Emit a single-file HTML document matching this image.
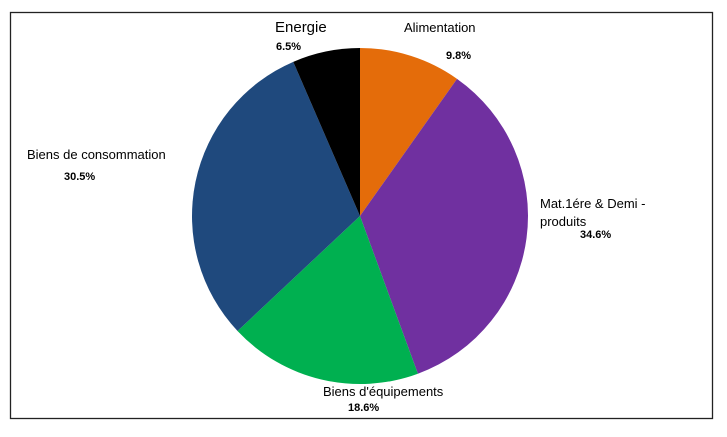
<!DOCTYPE html>
<html><head><meta charset="utf-8"><style>
body{margin:0;background:#fff;width:727px;height:432px;overflow:hidden;font-family:"Liberation Sans",sans-serif}
svg text{font-family:"Liberation Sans",sans-serif}
</style></head><body>
<svg width="727" height="432">
<rect x="10.5" y="12.5" width="702" height="406" fill="#fff" stroke="#222" stroke-width="1.3"/>
<g id="slices"></g>
<g id="labels" font-size="13" fill="#000"></g>
</svg>
<script>
const categories=["Alimentation","Mat.1ére & Demi - produits","Biens d'équipements","Biens de consommation","Energie"];
const values=[9.8,34.6,18.6,30.5,6.5];
const pctLabels=["9.8%","34.6%","18.6%","30.5%","6.5%"];
const colors=["#E46C0A","#7030A0","#00B050","#1F497D","#000000"];
const cx=360,cy=216,r=168;
const ns="http://www.w3.org/2000/svg";
const total=values.reduce((a,b)=>a+b,0);
let a0=0;
const g=document.getElementById('slices');
values.forEach((v,i)=>{
  const a1=a0+v/total*2*Math.PI;
  const x0=cx+r*Math.sin(a0),y0=cy-r*Math.cos(a0),x1=cx+r*Math.sin(a1),y1=cy-r*Math.cos(a1);
  const p=document.createElementNS(ns,'path');
  p.setAttribute('d',`M${cx},${cy}L${x0},${y0}A${r},${r} 0 ${a1-a0>Math.PI?1:0} 1 ${x1},${y1}Z`);
  p.setAttribute('fill',colors[i]);
  
  
  g.appendChild(p);
  a0=a1;
});
const lines=[["Alimentation"],["Mat.1ére & Demi -","produits"],["Biens d'équipements"],["Biens de consommation"],["Energie"]];
const namePos=[[404,32],[540,208],[323,396],[27,159],[275,32]];
const pctPos=[[446,59],[580,238],[348,411],[64,180],[276,50]];
const L=document.getElementById('labels');
lines.forEach((ls,i)=>{
  ls.forEach((s,j)=>{
    const t=document.createElementNS(ns,'text');
    t.setAttribute('x',namePos[i][0]);
    t.setAttribute('y',namePos[i][1]+j*18);
    if(i===4)t.setAttribute('font-size','15');
    t.textContent=s;
    
    
    L.appendChild(t);
  });
  const t=document.createElementNS(ns,'text');
  t.setAttribute('x',pctPos[i][0]);
  t.setAttribute('y',pctPos[i][1]);
  t.setAttribute('font-size','11');
  t.setAttribute('font-weight','bold');
  t.textContent=pctLabels[i];
  
  
  L.appendChild(t);
});
</script>
</body></html>
